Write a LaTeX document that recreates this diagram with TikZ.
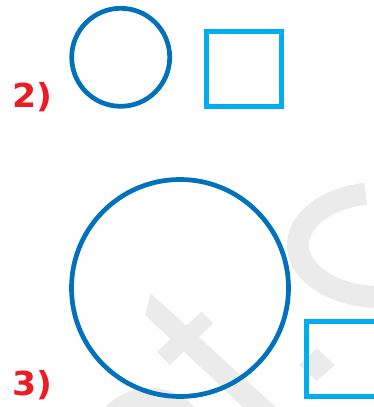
\documentclass[tikz,border=0pt]{standalone}
\usepackage{fontspec}
\newfontfamily\partfont{DejaVu Sans}
\definecolor{clRing}{HTML}{0072BC}
\definecolor{clTile}{HTML}{00AEEF}
\definecolor{clPart}{HTML}{ED1C24}
\definecolor{clMark}{HTML}{EBEBEB}
\tikzset{
  ring/.style={circle, draw=clRing, line width=4.7pt, inner sep=0pt},
  tile/.style={rectangle, draw=clTile, line width=5pt, inner sep=0pt, minimum size=75pt},
  partlabel/.style={font=\partfont\bfseries\fontsize{33pt}{33pt}\selectfont,
                    text=clPart, inner sep=0pt, anchor=base west, xscale=1.05},
  wmarkfill/.style={fill=clMark, draw=none},
  wmarkline/.style={draw=clMark, line width=22pt},
}

\begin{document}
\begin{tikzpicture}[x=1pt, y=-1pt]
  \useasboundingbox (0,0) rectangle (374,407);
  \clip (0,0) rectangle (374,407);

  % faint watermark behind the figures
  \draw[wmarkline] plot[domain=60:260, samples=60] ({380+82*cos(\x)}, {245+52*sin(\x)});
  \fill[wmarkfill] (150.7,293.3) -- (290,420) -- (256.7,420) -- (145,315) -- cycle;
  \fill[wmarkfill] (201.7,311.7) -- (213.3,323.3) -- (170,365) -- (156.7,351.7) -- cycle;
  \fill[wmarkfill] (316.7,348.3) -- (335,365) -- (316.7,381) -- (299.3,365) -- cycle;
  \fill[wmarkfill] (150,450) circle[radius=62];

  % part 2
  \node[partlabel] (partTwo) at (12.5,107) {2)};
  \node[ring, minimum size=98pt] (ringSmall) at (120.7,57.3) {};
  \node[tile] (tileSmall) at (244,69) {};

  % part 3
  \node[partlabel] (partThree) at (12.5,395) {3)};
  \node[ring, minimum size=217pt] (ringLarge) at (180,288) {};
  \node[tile] (tileLarge) at (344,359) {};
\end{tikzpicture}
\end{document}
